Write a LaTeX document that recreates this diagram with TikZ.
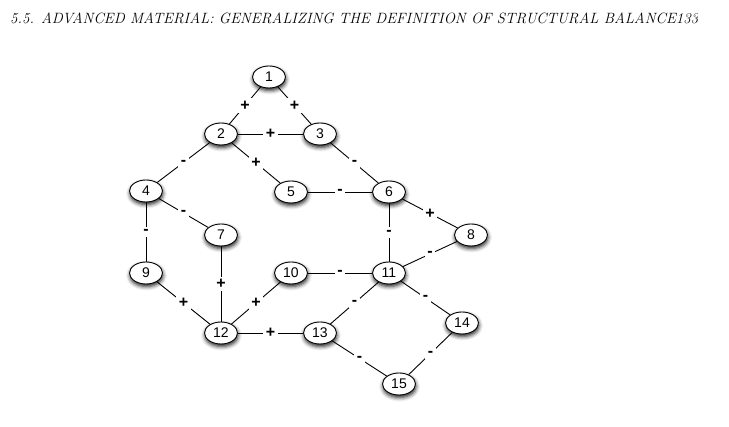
\documentclass[tikz,border=0pt]{standalone}
\usepackage{fontspec}
\setsansfont{Liberation Sans}
\usetikzlibrary{shapes.geometric,shadows.blur}

\begin{document}
\begin{tikzpicture}[x=1pt, y=-1pt,
  vertex/.style={ellipse, draw, line width=0.9pt, fill=white,
                 minimum width=33pt, minimum height=22pt, inner sep=0pt,
                 font=\sffamily\fontsize{14}{16}\selectfont,
                 blur shadow={shadow xshift=0.5pt, shadow yshift=-2.5pt,
                              shadow blur radius=4pt, shadow opacity=90}},
  sign/.style={fill=white, inner sep=2.5pt,
               font=\sffamily\bfseries\fontsize{16}{16}\selectfont},
  link/.style={line width=0.9pt},
  header/.style={anchor=base west, inner sep=0pt,
                 font=\fontsize{14.9}{17}\selectfont\itshape},
]
\useasboundingbox (0,0) rectangle (729,427);

% running head, cut at the right like the scan
\begin{scope}
  \clip (0,0) rectangle (697,40);
  \node[header] (head) at (10,24)
    {5.5.\hspace{7pt}ADVANCED MATERIAL: GENERALIZING THE DEFINITION OF STRUCTURAL BALANCE133};
\end{scope}

% vertices
\foreach \n/\x/\y in {1/269/77, 2/221/134, 3/320/134, 4/146/191, 5/291/192,
                      6/389/192, 7/221/235, 8/471/235, 9/146/273, 10/291/273,
                      11/389/273, 12/221/333, 13/320/333, 14/462/323, 15/399/384}
  \node[vertex] (n\n) at (\x,\y) {\n};

% signed edges
\foreach \a/\b/\s in {1/2/+, 1/3/+, 2/3/+, 2/4/-, 2/5/+, 3/6/-, 5/6/-,
                      4/7/-, 4/9/-, 6/8/+, 6/11/-, 8/11/-, 7/12/+, 9/12/+,
                      10/12/+, 10/11/-, 11/13/-, 11/14/-, 12/13/+, 13/15/-,
                      14/15/-}
  \draw[link] (n\a) -- node[sign] {\s} (n\b);

\end{tikzpicture}
\end{document}
